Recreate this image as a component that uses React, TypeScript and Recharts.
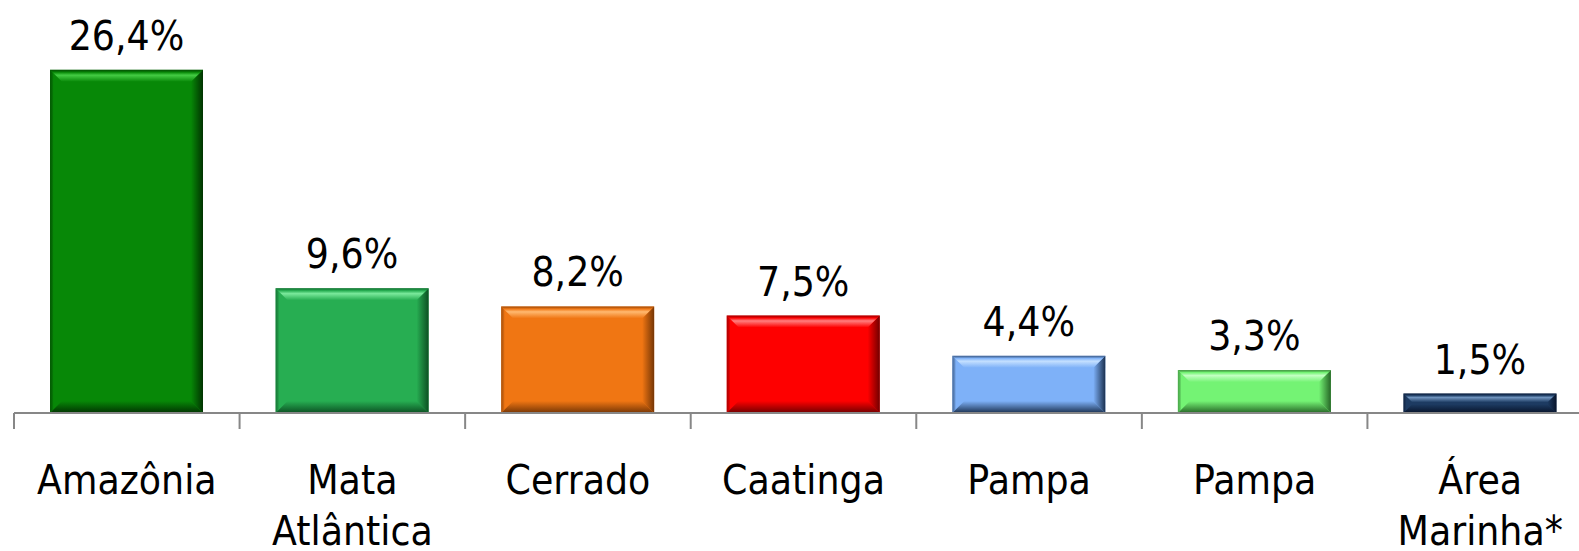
import { BarChart, Bar, XAxis, YAxis, LabelList } from "recharts";

const categories = [
  "Amazônia",
  "Mata\nAtlântica",
  "Cerrado",
  "Caatinga",
  "Pampa",
  "Pampa",
  "Área\nMarinha*",
];
const values = [26.4, 9.6, 8.2, 7.5, 4.4, 3.3, 1.5];
const baseColors = ["#078807", "#27ae52", "#f07613", "#fe0000", "#7eb1f8", "#74f374", "#1d3b62"];
const lightColors = ["#44cc44", "#7ae99b", "#ffb970", "#ff8080", "#c4e0ff", "#c2ffc2", "#6e92bc"];
const darkColors = ["#013301", "#0c5023", "#763605", "#700000", "#1b3150", "#266626", "#07132a"];

const data = categories.map((name, i) => ({
  name,
  value: values[i],
  base: baseColors[i],
  light: lightColors[i],
  dark: darkColors[i],
}));

const CHART_W = 1600;
const MARGIN_L = 14;
const MARGIN_R = 7;
const HALF_BAND = (CHART_W - MARGIN_L - MARGIN_R) / categories.length / 2;
const FONT = "'DejaVu Sans', Verdana, sans-serif";
const SQUEEZE = 0.91;

function BevelBar(props: any) {
  const { x, y, width: w, height: h, payload, index } = props;
  if (!h || h <= 0) return null;
  const b = Math.min(12, h / 2.2, w / 2);
  const id = `bv${index}`;
  const { base, light, dark } = payload;
  return (
    <g>
      <defs>
        <linearGradient id={`${id}t`} x1="0" y1="0" x2="0" y2="1">
          <stop offset="0" stopColor={dark} stopOpacity={0.6} />
          <stop offset="0.2" stopColor={base} />
          <stop offset="0.45" stopColor={light} />
          <stop offset="1" stopColor={base} />
        </linearGradient>
        <linearGradient id={`${id}r`} x1="0" y1="0" x2="1" y2="0">
          <stop offset="0" stopColor={base} />
          <stop offset="1" stopColor={dark} />
        </linearGradient>
        <linearGradient id={`${id}b`} x1="0" y1="0" x2="0" y2="1">
          <stop offset="0" stopColor={base} />
          <stop offset="1" stopColor={dark} />
        </linearGradient>
        <linearGradient id={`${id}l`} x1="0" y1="0" x2="1" y2="0">
          <stop offset="0" stopColor={dark} stopOpacity={0.5} />
          <stop offset="0.3" stopColor={base} />
          <stop offset="1" stopColor={base} />
        </linearGradient>
      </defs>
      <rect x={x} y={y} width={w} height={h} fill={base} />
      <polygon
        points={`${x},${y} ${x + b},${y + b} ${x + b},${y + h - b} ${x},${y + h}`}
        fill={`url(#${id}l)`}
      />
      <polygon
        points={`${x},${y + h} ${x + w},${y + h} ${x + w - b},${y + h - b} ${x + b},${y + h - b}`}
        fill={`url(#${id}b)`}
      />
      <polygon
        points={`${x + w},${y} ${x + w},${y + h} ${x + w - b},${y + h - b} ${x + w - b},${y + b}`}
        fill={`url(#${id}r)`}
      />
      <polygon
        points={`${x},${y} ${x + w},${y} ${x + w - b},${y + b} ${x + b},${y + b}`}
        fill={`url(#${id}t)`}
      />
    </g>
  );
}

function ValueLabel(props: any) {
  const { x, y, width, value } = props;
  const cx = x + width / 2;
  return (
    <text
      transform={`translate(${cx},${y - 20}) scale(${SQUEEZE},1)`}
      textAnchor="middle"
      fontFamily={FONT}
      fontSize={40}
      fill="#000"
    >
      {String(value).replace(".", ",") + "%"}
    </text>
  );
}

function CatTick(props: any) {
  const { x, y, payload } = props;
  const lines = String(payload.value).split("\n");
  return (
    <g>
      <line x1={x - HALF_BAND} y1={y} x2={x - HALF_BAND} y2={y + 16} stroke="#878787" strokeWidth={2} />
      {lines.map((ln, i) => (
        <text
          key={i}
          transform={`translate(${x},${y + 81 + i * 51}) scale(${SQUEEZE},1)`}
          textAnchor="middle"
          fontFamily={FONT}
          fontSize={40}
          fill="#000"
        >
          {ln}
        </text>
      ))}
    </g>
  );
}

export default function App() {
  return (
    <div
      style={{
        position: "absolute",
        left: 0,
        top: 0,
        width: 1579,
        height: 551,
        overflow: "hidden",
        background: "#fff",
      }}
    >
      <BarChart
        width={CHART_W}
        height={551}
        data={data}
        margin={{ top: 23, right: MARGIN_R, bottom: 0, left: MARGIN_L }}
        barSize={153}
      >
        <XAxis
          dataKey="name"
          axisLine={{ stroke: "#878787", strokeWidth: 2 }}
          tickLine={false}
          tickSize={0}
          tickMargin={0}
          interval={0}
          height={138}
          tick={<CatTick />}
        />
        <YAxis hide domain={[0, 30]} />
        <Bar dataKey="value" shape={<BevelBar />} isAnimationActive={false}>
          <LabelList dataKey="value" content={<ValueLabel />} />
        </Bar>
      </BarChart>
    </div>
  );
}
